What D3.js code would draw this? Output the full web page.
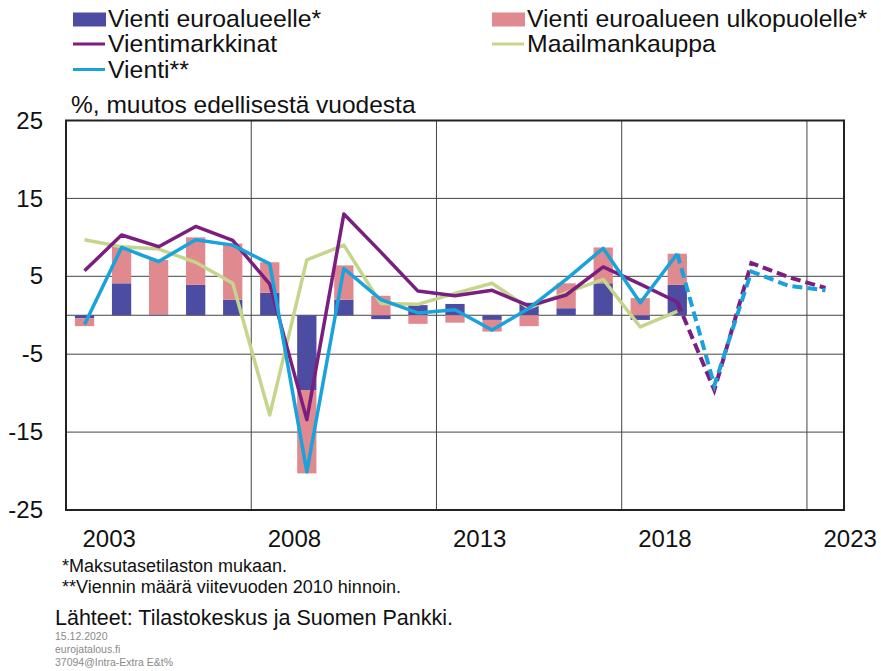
<!DOCTYPE html>
<html lang="fi">
<head>
    <meta charset="UTF-8">
    <title>Vienti</title>
    <style>
        body { margin: 0; background: #fff; }
        text { font-family: "Liberation Sans", Arial, sans-serif; fill: #111; }
    </style>
</head>
<body>

    <svg id="svg" width="881" height="671"></svg>

    <script src="https://d3js.org/d3.v7.min.js"></script>
    <script>
        // vuodet
        const barYears = d3.range(2003, 2020)
        const lineYears = d3.range(2003, 2024)
        const xTickYears = [2003, 2008, 2013, 2018, 2023]
        const yTicks = [-25, -15, -5, 5, 15, 25]

        // pylväät, %-yks.
        const euroalueelle = [-0.4, 4.1, 0.1, 3.9, 2.0, 2.9, -9.6, 2.0, -0.5, 1.3, 1.45, -0.6, 1.6, 0.9, 4.1, -0.6, 3.9]
        const ulkopuolelle = [-1.0, 4.8, 7.0, 6.1, 7.2, 3.9, -10.7, 4.4, 2.5, -1.1, -0.95, -1.5, -1.4, 3.2, 4.6, 2.2, 4.0]

        // viivat
        const vientimarkkinat = [5.7, 10.3, 8.8, 11.4, 9.6, 4.0, -13.4, 13.0, 8.1, 3.1, 2.5, 3.2, 1.2, 2.6, 6.2, 4.0, 1.7, -9.6, 6.7, 4.9, 3.5]
        const maailmankauppa = [9.7, 8.8, 8.5, 6.8, 4.1, -12.8, 7.1, 9.0, 1.5, 1.4, 2.8, 4.1, 0.9, 2.9, 4.6, -1.5, 0.5]
        const vienti = [-1.2, 8.7, 6.9, 9.7, 9.0, 6.6, -20.1, 6.0, 2.0, 0.3, 0.7, -1.9, 0.9, 4.6, 8.6, 1.6, 7.9, -9.0, 5.6, 3.8, 3.2]
        const lastActual = 2019

        const colors = {
            euro: '#4c4ca2',
            ulko: '#e0898e',
            markkinat: '#7a1e7f',
            kauppa: '#c6d58c',
            vienti: '#19a2db'
        }

        const svg = d3.select('#svg')

        const xScale = d3.scaleLinear()
            .domain([2003, 2024])
            .range([66, 844])

        const yScale = d3.scaleLinear()
            .domain([-25, 25])
            .range([510, 120.5])

        const mid = y => xScale(y + 0.5)
        const barW = (xScale(2004) - xScale(2003)) * 0.52

        // ruudukko
        svg.append('g')
            .selectAll('line')
            .data([15, 5, 0, -5, -15])
            .enter()
            .append('line')
            .attr('x1', xScale(2003)).attr('x2', xScale(2024))
            .attr('y1', d => yScale(d)).attr('y2', d => yScale(d))
            .attr('stroke', '#444').attr('stroke-width', 1)

        svg.append('g')
            .selectAll('line')
            .data([2008, 2013, 2018, 2023])
            .enter()
            .append('line')
            .attr('x1', d => xScale(d)).attr('x2', d => xScale(d))
            .attr('y1', yScale(25)).attr('y2', yScale(-25))
            .attr('stroke', '#444').attr('stroke-width', 1)

        // pinotut pylväät
        const table = barYears.map((y, i) => ({ year: y, euro: euroalueelle[i], ulko: ulkopuolelle[i] }))
        const stack = d3.stack()
            .keys(['euro', 'ulko'])
            .offset(d3.stackOffsetDiverging)
        const stacked = stack(table)

        svg.append('g')
            .selectAll('g')
            .data(stacked)
            .enter()
            .append('g')
            .attr('fill', d => colors[d.key])
            .selectAll('rect')
            .data(d => d)
            .enter()
            .append('rect')
            .attr('x', d => mid(d.data.year) - barW / 2)
            .attr('width', barW)
            .attr('y', d => yScale(Math.max(d[0], d[1])))
            .attr('height', d => Math.abs(yScale(d[0]) - yScale(d[1])))

        // viivat
        const line = d3.line()
            .x(d => mid(d.year))
            .y(d => yScale(d.value))

        const series = [
            { key: 'kauppa', values: maailmankauppa },
            { key: 'markkinat', values: vientimarkkinat },
            { key: 'vienti', values: vienti }
        ]

        series.forEach(s => {
            const pts = s.values.map((v, i) => ({ year: lineYears[i], value: v }))
            svg.append('path')
                .datum(pts.filter(d => d.year <= lastActual))
                .attr('d', line)
                .attr('fill', 'none')
                .attr('stroke', colors[s.key])
                .attr('stroke-width', 3.5)
                .attr('stroke-linejoin', 'round')
            const ennuste = pts.filter(d => d.year >= lastActual)
            if (ennuste.length > 1) {
                svg.append('path')
                    .datum(ennuste)
                    .attr('d', line)
                    .attr('fill', 'none')
                    .attr('stroke', colors[s.key])
                    .attr('stroke-width', 4)
                    .attr('stroke-dasharray', '10,5')
            }
        })

        // kehys
        svg.append('rect')
            .attr('x', xScale(2003)).attr('y', yScale(25))
            .attr('width', xScale(2024) - xScale(2003))
            .attr('height', yScale(-25) - yScale(25))
            .attr('fill', 'none')
            .attr('stroke', '#222').attr('stroke-width', 2)

        // akselit
        const yAxis = svg.append('g')
            .attr('transform', `translate(${xScale(2003)},0)`)
            .call(d3.axisLeft(yScale).tickValues(yTicks).tickFormat(d => String(d)).tickSize(0).tickPadding(23))
        yAxis.select('.domain').remove()
        yAxis.selectAll('text').style('font-size', '24px').attr('fill', '#111')

        const xAxis = svg.append('g')
            .attr('transform', `translate(0,${yScale(-25)})`)
            .call(d3.axisBottom(xScale).tickValues(xTickYears).tickFormat(d => String(d)).tickSize(0).tickPadding(20))
        xAxis.select('.domain').remove()
        xAxis.selectAll('text')
            .style('font-size', '24px').attr('fill', '#111')
            .attr('text-anchor', 'start').attr('x', 16)

        svg.append('text')
            .attr('x', 71).attr('y', 113)
            .style('font-size', '24.5px')
            .text('%, muutos edellisestä vuodesta')

        // selite
        const legend = [
            { label: 'Vienti euroalueelle*', key: 'euro', type: 'box', x: 73, y: 26.5 },
            { label: 'Vienti euroalueen ulkopuolelle*', key: 'ulko', type: 'box', x: 492, y: 26.5 },
            { label: 'Vientimarkkinat', key: 'markkinat', type: 'line', x: 73, y: 52 },
            { label: 'Maailmankauppa', key: 'kauppa', type: 'line', x: 492, y: 52 },
            { label: 'Vienti**', key: 'vienti', type: 'line', x: 73, y: 77.5 }
        ]

        const items = svg.append('g')
            .selectAll('g')
            .data(legend)
            .enter()
            .append('g')
            .attr('transform', d => `translate(${d.x},${d.y})`)

        items.filter(d => d.type === 'box')
            .append('rect')
            .attr('x', 0).attr('y', -14).attr('width', 33).attr('height', 14)
            .attr('fill', d => colors[d.key])
        items.filter(d => d.type === 'line')
            .append('line')
            .attr('x1', 0).attr('x2', 32).attr('y1', -8).attr('y2', -8)
            .attr('stroke', d => colors[d.key]).attr('stroke-width', 3)
        items.append('text')
            .attr('x', 35)
            .style('font-size', '24.8px')
            .text(d => d.label)

        // alaviitteet
        svg.append('text').attr('x', 62).attr('y', 572).style('font-size', '18px')
            .text('*Maksutasetilaston mukaan.')
        svg.append('text').attr('x', 62).attr('y', 593).style('font-size', '18px')
            .text('**Viennin määrä viitevuoden 2010 hinnoin.')
        svg.append('text').attr('x', 55).attr('y', 625).style('font-size', '21.5px')
            .text('Lähteet: Tilastokeskus ja Suomen Pankki.')

        const small = ['15.12.2020', 'eurojatalous.fi', '37094@Intra-Extra E&t%']
        svg.append('g')
            .selectAll('text')
            .data(small)
            .enter()
            .append('text')
            .attr('x', 55)
            .attr('y', (d, i) => 640 + i * 13)
            .style('font-size', '10.5px')
            .style('fill', '#8a8a8a')
            .text(d => d)
    </script>
</body>
</html>
